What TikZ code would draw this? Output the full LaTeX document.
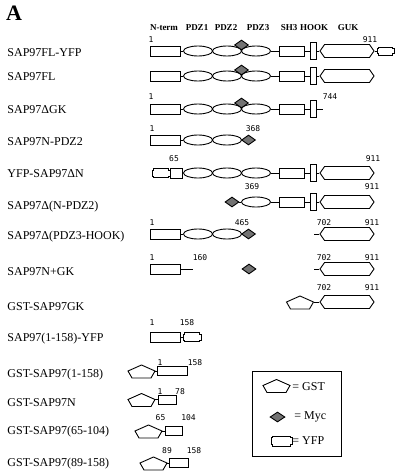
\documentclass[tikz,border=0pt]{standalone}
\usepackage{fontspec}
\setmainfont{Liberation Serif}
\newfontfamily\numfont{DejaVu Sans Mono}
\usepackage{tikz}
\usetikzlibrary{positioning,shapes.geometric,shapes.symbols}

\tikzset{
  pics/yfp/.style 2 args={code={
    \draw (-#1/2,-#2/2+1.5) -- (-#1/2+1.5,-#2/2+1.5) -- (-#1/2+1.5,-#2/2) -- (#1/2-1.5,-#2/2)
      -- (#1/2-1.5,-#2/2+1.5) -- (#1/2,-#2/2+1.5) -- (#1/2,#2/2-1.5) -- (#1/2-1.5,#2/2-1.5)
      -- (#1/2-1.5,#2/2) -- (-#1/2+1.5,#2/2) -- (-#1/2+1.5,#2/2-1.5) -- (-#1/2,#2/2-1.5) -- cycle;
    \coordinate (-west) at (-#1/2,0);
    \coordinate (-east) at (#1/2,0);
  }},
  pics/gst/.style={code={
    \draw (0,-6) -- (13.5,0) -- (9.5,7) -- (-9.5,7) -- (-13.5,0) -- cycle;
    \coordinate (-east) at (13.5,0);
  }}
}

\begin{document}
\begin{tikzpicture}[x=1pt,y=-1pt,line width=0.9pt,inner sep=0pt,
  seg/.style={draw,rectangle,minimum width=30pt,minimum height=10pt},
  pdz/.style={draw,ellipse,minimum width=29pt,minimum height=10pt},
  hook/.style={draw,rectangle,minimum width=6pt,minimum height=17pt},
  guk/.style={draw,signal,signal to=west and east,signal pointer angle=110,minimum width=54pt,minimum height=13pt},
  myc/.style={draw,diamond,fill=black!55,minimum width=14pt,minimum height=10pt},
  num/.style={font=\numfont\fontsize{8}{9}\selectfont},
  head/.style={font=\bfseries\fontsize{9}{10}\selectfont},
  lbl/.style={anchor=west,text height=8pt,text depth=0pt,font=\fontsize{12}{14}\selectfont},
  key/.style={anchor=west,font=\fontsize{12}{14}\selectfont}]
\useasboundingbox (0,0) rectangle (400,474);

\node [font=\bfseries\fontsize{22}{24}\selectfont] (panel) at (14,13) {A};

% domain headings
\node [head] (hnterm) at (164,28) {N-term};
\node [head] (hpdz1) at (197,28) {PDZ1};
\node [head] (hpdz2) at (226,28) {PDZ2};
\node [head] (hpdz3) at (258,28) {PDZ3};
\node [head] (hsh3) at (289,28) {SH3};
\node [head] (hhook) at (314,28) {HOOK};
\node [head] (hguk) at (348,28) {GUK};

% SAP97FL-YFP
\node [lbl] (l1) at (7,52) {SAP97FL-YFP};
\node [seg] (n1) at (165,51) {};
\node [pdz] (z1a) at (198,51) {};
\node [pdz] (z1b) at (227,51) {};
\node [pdz] (z1c) at (256,51) {};
\node [myc] (m1) at (241.5,45) {};
\node [seg,minimum width=25pt] (s1) at (291.5,51) {};
\node [hook] (h1) at (313,51) {};
\node [guk] (g1) at (347,51) {};
\pic (y1) at (385.5,51) {yfp={17}{8}};
\node [num] (t1a) at (151,40) {1};
\node [num] (t1b) at (370,40) {911};
\path (n1) edge (z1a) (z1c) edge (s1) (s1) edge (h1) (h1) edge (g1) (g1) edge (y1-west);

% SAP97FL
\node [lbl] (l2) at (7,76) {SAP97FL};
\node [seg] (n2) at (165,76) {};
\node [pdz] (z2a) at (198,76) {};
\node [pdz] (z2b) at (227,76) {};
\node [pdz] (z2c) at (256,76) {};
\node [myc] (m2) at (241.5,70) {};
\node [seg,minimum width=25pt] (s2) at (291.5,76) {};
\node [hook] (h2) at (313,76) {};
\node [guk] (g2) at (347,76) {};
\path (n2) edge (z2a) (z2c) edge (s2) (s2) edge (h2) (h2) edge (g2);

% SAP97dGK
\node [lbl] (l3) at (7,109) {SAP97ΔGK};
\node [seg] (n3) at (165,109) {};
\node [pdz] (z3a) at (198,109) {};
\node [pdz] (z3b) at (227,109) {};
\node [pdz] (z3c) at (256,109) {};
\node [myc] (m3) at (241.5,103) {};
\node [seg,minimum width=25pt] (s3) at (291.5,109) {};
\node [hook] (h3) at (313,109) {};
\coordinate (e3) at (323,109);
\node [num] (t3a) at (151,97) {1};
\node [num] (t3b) at (330,97) {744};
\path (n3) edge (z3a) (z3c) edge (s3) (s3) edge (h3) (h3) edge (e3);

% SAP97N-PDZ2
\node [lbl] (l4) at (7,141) {SAP97N-PDZ2};
\node [seg] (n4) at (165,140) {};
\node [pdz] (z4a) at (198,140) {};
\node [pdz] (z4b) at (227,140) {};
\node [myc] (m4) at (248.5,140) {};
\node [num] (t4a) at (152,129) {1};
\node [num] (t4b) at (253,129) {368};
\path (n4) edge (z4a);

% YFP-SAP97dN
\node [lbl] (l5) at (7,173) {YFP-SAP97ΔN};
\pic (y5) at (161,173) {yfp={18}{9}};
\node [seg,minimum width=12pt] (n5) at (176,173) {};
\node [pdz] (z5a) at (198,173) {};
\node [pdz] (z5b) at (227,173) {};
\node [pdz] (z5c) at (256,173) {};
\node [seg,minimum width=25pt] (s5) at (291.5,173) {};
\node [hook] (h5) at (313,173) {};
\node [guk] (g5) at (347,173) {};
\node [num] (t5a) at (174,159) {65};
\node [num] (t5b) at (373,159) {911};
\path (n5) edge (z5a) (z5c) edge (s5) (s5) edge (h5) (h5) edge (g5);

% SAP97d(N-PDZ2)
\node [lbl] (l6) at (7,205) {SAP97Δ(N-PDZ2)};
\node [myc] (m6) at (232,202) {};
\node [pdz] (z6c) at (256,202) {};
\node [seg,minimum width=25pt] (s6) at (291.5,202) {};
\node [hook] (h6) at (313,202) {};
\node [guk] (g6) at (347,202) {};
\node [num] (t6a) at (252,187) {369};
\node [num] (t6b) at (372,187) {911};
\path (m6) edge (z6c) (z6c) edge (s6) (s6) edge (h6) (h6) edge (g6);

% SAP97d(PDZ3-HOOK)
\node [lbl] (l7) at (7,235) {SAP97Δ(PDZ3-HOOK)};
\node [seg] (n7) at (165,234) {};
\node [pdz] (z7a) at (198,234) {};
\node [pdz] (z7b) at (227,234) {};
\node [myc] (m7) at (248.5,234) {};
\coordinate (b7) at (314,234);
\node [guk] (g7) at (347,234) {};
\node [num] (t7a) at (152,223) {1};
\node [num] (t7b) at (242,223) {465};
\node [num] (t7c) at (324,223) {702};
\node [num] (t7d) at (372,223) {911};
\path (n7) edge (z7a) (b7) edge (g7);

% SAP97N+GK
\node [lbl] (l8) at (7,271) {SAP97N+GK};
\node [seg] (n8) at (165,269) {};
\coordinate (e8) at (193,269);
\node [myc] (m8) at (249,269) {};
\coordinate (b8) at (314,269);
\node [guk] (g8) at (347,269) {};
\node [num] (t8a) at (152,258) {1};
\node [num] (t8b) at (200,258) {160};
\node [num] (t8c) at (324,258) {702};
\node [num] (t8d) at (372,258) {911};
\path (n8) edge (e8) (b8) edge (g8);

% GST-SAP97GK
\node [lbl] (l9) at (7,306) {GST-SAP97GK};
\pic (q9) at (300,302) {gst};
\node [guk] (g9) at (347,302) {};
\node [num] (t9a) at (324,288) {702};
\node [num] (t9b) at (372,288) {911};
\path (q9-east) edge (g9);

% SAP97(1-158)-YFP
\node [lbl] (l10) at (7,337) {SAP97(1-158)-YFP};
\node [seg] (n10) at (165,337) {};
\pic (y10) at (192,337) {yfp={18}{9}};
\node [num] (t10a) at (152,323) {1};
\node [num] (t10b) at (187,323) {158};
\path (n10) edge (y10-west);

% GST fusions
\node [lbl] (l11) at (7,373) {GST-SAP97(1-158)};
\pic (q11) at (141.5,371) {gst};
\node [seg,minimum height=9pt] (n11) at (172,371) {};
\node [num] (t11a) at (160,363) {1};
\node [num] (t11b) at (195,363) {158};
\path (q11-east) edge (n11);

\node [lbl] (l12) at (7,402) {GST-SAP97N};
\pic (q12) at (141.5,399.5) {gst};
\node [seg,minimum width=18pt,minimum height=9pt] (n12) at (167,399.5) {};
\node [num] (t12a) at (160,392) {1};
\node [num] (t12b) at (180,392) {78};
\path (q12-east) edge (n12);

\node [lbl] (l13) at (7,430) {GST-SAP97(65-104)};
\pic (q13) at (148.5,431) {gst};
\node [seg,minimum width=17pt,minimum height=9pt] (n13) at (173.5,431) {};
\node [num] (t13a) at (160.5,418) {65};
\node [num] (t13b) at (188.5,418) {104};
\path (q13-east) edge (n13);

\node [lbl] (l14) at (7,462) {GST-SAP97(89-158)};
\pic (q14) at (153.5,463) {gst};
\node [seg,minimum width=19pt,minimum height=9pt] (n14) at (178.5,463) {};
\node [num] (t14a) at (167,451) {89};
\node [num] (t14b) at (194,451) {158};
\path (q14-east) edge (n14);

% legend
\node [draw,minimum width=89pt,minimum height=85pt] (legend) at (296.5,413.5) {};
\pic (q0) at (276.5,385.5) {gst};
\node [key] (k1) at (292,387) {= GST};
\node [myc,minimum width=15pt] (m0) at (277.5,417) {};
\node [key] (k2) at (294,417) {= Myc};
\pic (y0) at (281.5,441) {yfp={21}{10}};
\node [key] (k3) at (292,441) {= YFP};
\end{tikzpicture}
\end{document}
